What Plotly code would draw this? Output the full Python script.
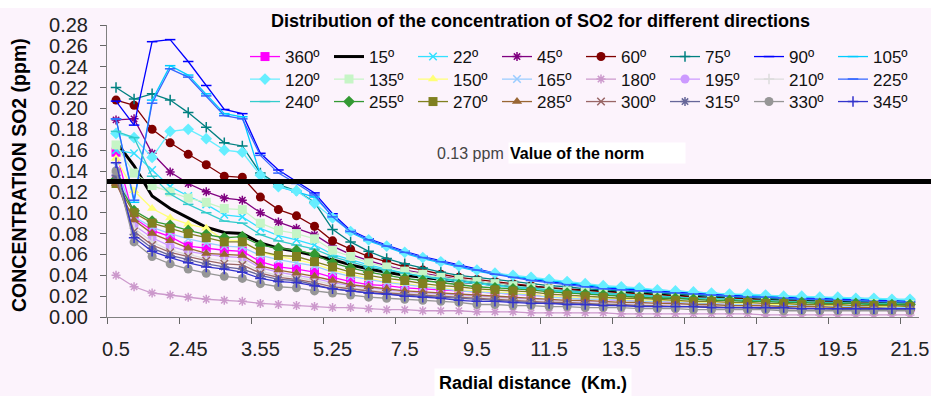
import plotly.graph_objects as go

# ---------------- data ----------------
categories = ["0.5", "1", "1.5", "2", "2.45", "2.75", "3", "3.25", "3.55", "4", "4.5", "4.75",
              "5.25", "5.75", "6.25", "6.75", "7.5", "8", "8.5", "9", "9.5", "10", "10.5", "11",
              "11.5", "12", "12.5", "13", "13.5", "14", "14.5", "15", "15.5", "16", "16.5", "17",
              "17.5", "18", "18.5", "19", "19.5", "20", "20.5", "21", "21.5"]

directions = ["360º", "15º", "22º", "45º", "60º", "75º", "90º", "105º",
              "120º", "135º", "150º", "165º", "180º", "195º", "210º", "225º",
              "240º", "255º", "270º", "285º", "300º", "315º", "330º", "345º"]

s360 = [.158, .095, .083, .077, .068, .066, .064, .063, .053, .048, .046, .043, .038,
        .034, .031, .030, .028, .027, .026, .025, .024, .023, .022, .021, .020, .019, .018, .017, .016,
        .016, .015, .014, .014, .013, .013, .012, .012, .012, .011, .011, .010, .010, .010, .009, .009]
s15 = [.168, .145, .116, .104, .095, .086, .081, .080, .071, .066, .063, .059, .055,
       .050, .046, .043, .040, .038, .036, .034, .033, .031, .030, .029, .027, .026, .025, .024, .023,
       .022, .021, .020, .019, .018, .018, .017, .016, .016, .015, .015, .014, .014, .013, .013, .012]
s22 = [.160, .157, .141, .125, .116, .108, .098, .096, .085, .078, .074, .069, .060,
       .055, .050, .046, .042, .039, .036, .034, .032, .030, .028, .027, .025, .024, .023, .022, .021,
       .020, .019, .018, .017, .017, .016, .015, .015, .014, .014, .013, .013, .013, .012, .012, .012]
s45 = [.189, .190, .157, .139, .128, .120, .114, .112, .100, .091, .085, .079, .068,
       .060, .054, .049, .045, .042, .039, .036, .034, .032, .030, .028, .027, .025, .024, .023, .022,
       .021, .020, .019, .018, .017, .017, .016, .015, .015, .014, .014, .013, .013, .013, .012, .012]
s60 = [.208, .203, .180, .167, .156, .146, .135, .134, .115, .103, .097, .087, .073,
       .065, .058, .053, .048, .045, .041, .038, .036, .034, .032, .030, .028, .027, .025, .024, .023,
       .022, .021, .020, .019, .018, .018, .017, .016, .016, .015, .015, .014, .014, .013, .013, .013]
s75 = [.220, .209, .214, .208, .196, .182, .167, .164, .138, .127, .121, .110, .084,
       .072, .063, .056, .051, .047, .043, .040, .038, .036, .034, .032, .030, .029, .027, .026, .025,
       .024, .023, .022, .021, .020, .019, .019, .018, .017, .017, .016, .016, .015, .015, .014, .014]
s90 = [.207, .184, .264, .266, .245, .222, .199, .195, .157, .141, .130, .119, .099,
       .083, .075, .069, .063, .058, .054, .050, .046, .042, .039, .036, .034, .032, .030, .028, .027,
       .026, .025, .024, .023, .022, .021, .020, .020, .019, .018, .018, .017, .017, .016, .016, .015]
s105 = [.190, .110, .208, .241, .232, .214, .195, .192, .136, .125, .120, .115, .097,
        .081, .073, .067, .061, .056, .052, .048, .044, .041, .039, .037, .035, .033, .031, .029, .028,
        .027, .026, .025, .024, .023, .022, .021, .020, .020, .019, .019, .018, .018, .017, .017, .016]
s120 = [.176, .172, .153, .178, .180, .171, .160, .158, .136, .125, .121, .109, .095,
        .082, .074, .068, .062, .057, .053, .049, .045, .042, .040, .038, .036, .034, .032, .030, .029,
        .028, .026, .025, .024, .023, .022, .022, .021, .020, .020, .019, .019, .018, .018, .017, .017]
s135 = [.165, .138, .126, .120, .114, .110, .104, .103, .090, .083, .080, .075, .064,
        .058, .052, .048, .044, .041, .038, .036, .034, .032, .030, .028, .027, .025, .024, .023, .022,
        .021, .020, .019, .018, .017, .017, .016, .015, .015, .014, .014, .013, .013, .013, .012, .012]
s150 = [.152, .121, .104, .095, .089, .085, .074, .073, .062, .058, .055, .051, .045,
        .041, .037, .034, .032, .030, .028, .026, .025, .024, .023, .022, .020, .019, .018, .018, .017,
        .016, .016, .015, .014, .014, .013, .013, .012, .012, .012, .011, .011, .011, .010, .010, .010]
s165 = [.145, .096, .086, .080, .075, .071, .068, .067, .059, .055, .052, .049, .043,
        .039, .036, .033, .031, .029, .027, .025, .024, .023, .022, .021, .019, .018, .017, .017, .016,
        .015, .015, .014, .013, .013, .012, .012, .011, .011, .011, .010, .010, .010, .009, .009, .009]
s180 = [.040, .029, .023, .021, .019, .017, .016, .015, .013, .012, .011, .010, .009,
        .009, .008, .007, .007, .006, .006, .006, .005, .005, .005, .004, .004, .004, .004, .004, .003,
        .003, .003, .003, .003, .003, .003, .003, .002, .002, .002, .002, .002, .002, .002, .002, .002]
s195 = [.135, .088, .076, .068, .063, .060, .058, .057, .047, .043, .040, .037, .033,
        .030, .028, .026, .024, .023, .022, .021, .020, .019, .018, .017, .016, .015, .015, .014, .013,
        .013, .012, .012, .011, .011, .010, .010, .010, .009, .009, .009, .008, .008, .008, .008, .007]
s210 = [.138, .085, .072, .064, .060, .056, .054, .053, .044, .040, .038, .035, .031,
        .028, .026, .024, .023, .022, .021, .020, .019, .018, .017, .016, .015, .015, .014, .013, .013,
        .012, .012, .011, .011, .010, .010, .010, .009, .009, .009, .008, .008, .008, .008, .007, .007]
s225 = [.190, .112, .205, .238, .230, .212, .193, .190, .155, .138, .128, .117, .096,
        .082, .074, .068, .062, .057, .053, .049, .045, .041, .038, .035, .033, .031, .029, .027, .026,
        .025, .024, .023, .022, .021, .020, .019, .019, .018, .017, .017, .016, .016, .015, .015, .014]
s240 = [.178, .172, .135, .118, .108, .100, .092, .090, .079, .073, .069, .065, .058,
        .053, .048, .045, .042, .039, .037, .035, .033, .031, .029, .028, .026, .025, .024, .023, .022,
        .021, .020, .019, .018, .018, .017, .016, .016, .015, .015, .014, .014, .013, .013, .013, .012]
s255 = [.132, .102, .092, .088, .083, .079, .076, .077, .069, .066, .064, .060, .052,
        .047, .043, .040, .037, .035, .033, .031, .029, .028, .027, .026, .024, .023, .022, .021, .020,
        .019, .018, .018, .017, .016, .016, .015, .015, .014, .014, .013, .013, .013, .012, .012, .012]
s270 = [.128, .100, .090, .085, .080, .076, .072, .072, .063, .059, .058, .053, .048,
        .043, .040, .037, .035, .032, .030, .029, .027, .026, .025, .024, .022, .021, .020, .019, .018,
        .018, .017, .016, .015, .015, .014, .014, .013, .013, .012, .012, .012, .011, .011, .011, .010]
s285 = [.128, .093, .080, .073, .066, .061, .060, .059, .049, .045, .042, .039, .035,
        .031, .029, .027, .025, .024, .023, .022, .021, .020, .019, .018, .017, .016, .016, .015, .014,
        .014, .013, .013, .012, .012, .011, .011, .011, .010, .010, .010, .009, .009, .009, .008, .008]
s300 = [.132, .082, .069, .062, .058, .054, .051, .050, .042, .038, .036, .033, .029,
        .027, .025, .023, .022, .021, .020, .019, .018, .017, .016, .015, .014, .014, .013, .012, .012,
        .011, .011, .010, .010, .010, .009, .009, .009, .008, .008, .008, .008, .007, .007, .007, .007]
s315 = [.136, .079, .066, .059, .055, .051, .048, .046, .040, .036, .035, .031, .027,
        .025, .023, .022, .021, .020, .019, .018, .017, .016, .015, .014, .013, .013, .012, .012, .011,
        .011, .010, .010, .010, .009, .009, .009, .008, .008, .008, .008, .007, .007, .007, .007, .007]
s330 = [.140, .072, .058, .051, .046, .042, .039, .037, .032, .029, .028, .025, .023,
        .021, .019, .018, .017, .016, .015, .014, .012, .012, .011, .011, .010, .010, .009, .009, .009,
        .008, .008, .008, .007, .007, .007, .007, .007, .006, .006, .006, .006, .006, .006, .006, .006]
s345 = [.148, .076, .063, .057, .052, .048, .046, .043, .037, .034, .033, .030, .027,
        .025, .023, .022, .020, .019, .018, .016, .015, .015, .014, .013, .013, .012, .012, .011, .011,
        .010, .010, .010, .010, .009, .009, .009, .009, .009, .008, .008, .008, .008, .008, .008, .008]

norm_value = 0.13
series_values = [s360, s15, s22, s45, s60, s75, s90, s105,
                 s120, s135, s150, s165, s180, s195, s210, s225,
                 s240, s255, s270, s285, s300, s315, s330, s345]

# ---------------- style ----------------
colors = ["#ff00ff", "#000000", "#33e0ff", "#800080", "#800000", "#008080", "#0000ff", "#00ccff",
          "#66eeff", "#c6f5c6", "#ffff77", "#99ccff", "#cc99cc", "#cc99ff", "#dcdcdc", "#3366ff",
          "#33cccc", "#339933", "#808020", "#996633", "#996666", "#666699", "#969696", "#3333cc"]
symbols = ["square", None, "x-thin-open", "asterisk-open", "circle", "cross-thin-open", "line-ew-open", "line-ew-open",
           "diamond", "square", "triangle-up", "x-thin-open", "asterisk-open", "circle", "cross-thin-open", "line-ew-open",
           "line-ew-open", "diamond", "square", "triangle-up", "x-thin-open", "asterisk-open", "circle", "cross-thin-open"]

FONT = "Liberation Sans, Arial, sans-serif"
W, H = 931, 396
L, R, T, B = 107, 12, 25, 79
PW, PH = W - L - R, H - T - B


def px(x):
    return (x - L) / PW


def py(y):
    return (H - B - y) / PH


fig = go.Figure()
legend_layout = {}
for k, (name, vals) in enumerate(zip(directions, series_values)):
    sym = symbols[k]
    col = colors[k]
    leg_id = "legend" if k == 0 else "legend%d" % (k + 1)
    row, colno = k // 8, k % 8
    legend_layout[leg_id] = dict(
        orientation="h", xanchor="left", yanchor="middle",
        x=px(245 + 84 * colno), y=py(57 + 22.5 * row),
        font=dict(family=FONT, size=17, color="#111111"),
        bgcolor="rgba(0,0,0,0)", borderwidth=0, itemwidth=30)
    if sym is None:
        fig.add_trace(go.Scatter(x=categories, y=vals, name=name, mode="lines", showlegend=True,
                                 line=dict(color=col, width=3), legend=leg_id))
        continue
    open_sym = sym.endswith("-open")
    size = 7.5
    if sym in ("square", "circle", "diamond", "triangle-up"):
        size = 9
    fig.add_trace(go.Scatter(
        x=categories, y=vals, name=name, mode="lines+markers", showlegend=True,
        line=dict(color=col, width=1.3),
        marker=dict(symbol=sym, size=size, color=col,
                    line=dict(color=col, width=1.5 if open_sym else 0)),
        legend=leg_id))

bg = "#fcf3fc"
fig.update_layout(
    width=W, height=H, showlegend=True,
    margin=dict(l=L, r=R, t=T, b=B, autoexpand=False),
    paper_bgcolor=bg, plot_bgcolor=bg,
    font=dict(family=FONT, color="#222222"),
    xaxis=dict(type="category", range=[-0.5, 44.5], tickmode="linear", tick0=0, dtick=4,
               tickson="boundaries", ticks="outside", ticklen=6, tickcolor="#666666", tickangle=0,
               showline=True, linecolor="#808080", linewidth=1, showgrid=False, automargin=False,
               tickfont=dict(family=FONT, size=20, color="#222222"), ticklabelstandoff=14),
    yaxis=dict(range=[0, 0.28], tickmode="linear", tick0=0, dtick=0.02, tickformat=".2f",
               ticks="outside", ticklen=6, tickcolor="#666666", showline=True, automargin=False,
               linecolor="#808080", linewidth=1, showgrid=False, zeroline=False,
               tickfont=dict(family=FONT, size=20, color="#222222"), ticklabelstandoff=8),
    shapes=[
        dict(type="rect", xref="paper", yref="paper", x0=px(0), x1=px(W), y0=py(8), y1=py(0),
             fillcolor="white", line=dict(width=0), layer="below"),
        dict(type="line", xref="paper", yref="y", x0=0, x1=px(W), y0=norm_value, y1=norm_value,
             line=dict(color="black", width=5), layer="above"),
    ],
    annotations=[
        dict(text="<b>Distribution of the concentration of SO2 for different directions</b>",
             xref="paper", yref="paper", x=px(540), y=py(21), xanchor="center", yanchor="middle",
             showarrow=False, font=dict(family=FONT, size=18, color="black")),
        dict(text="<b>CONCENTRATION SO2 (ppm)</b>", textangle=-90,
             xref="paper", yref="paper", x=px(19), y=py(175), xanchor="center", yanchor="middle",
             showarrow=False, font=dict(family=FONT, size=19.5, color="black")),
        dict(text="<b>Radial distance\u00a0 (Km.)</b>",
             xref="paper", yref="paper", x=px(533), y=py(383), xanchor="center", yanchor="middle",
             showarrow=False, bgcolor="white", borderpad=4,
             font=dict(family=FONT, size=18, color="black")),
        dict(text="0.13 ppm",
             xref="paper", yref="paper", x=px(470), y=py(153), xanchor="center", yanchor="middle",
             showarrow=False, font=dict(family=FONT, size=16, color="#444444")),
        dict(text="<b>Value of the norm</b>",
             xref="paper", yref="paper", x=px(508), y=py(153), xanchor="left", yanchor="middle",
             showarrow=False, bgcolor="white", width=174, height=18, borderpad=1, align="left",
             font=dict(family=FONT, size=16, color="black")),
    ],
    **legend_layout,
)

fig.write_html("out.html", config={"displayModeBar": False},
               post_script="document.body.style.margin='0px';document.body.style.padding='0px';")
